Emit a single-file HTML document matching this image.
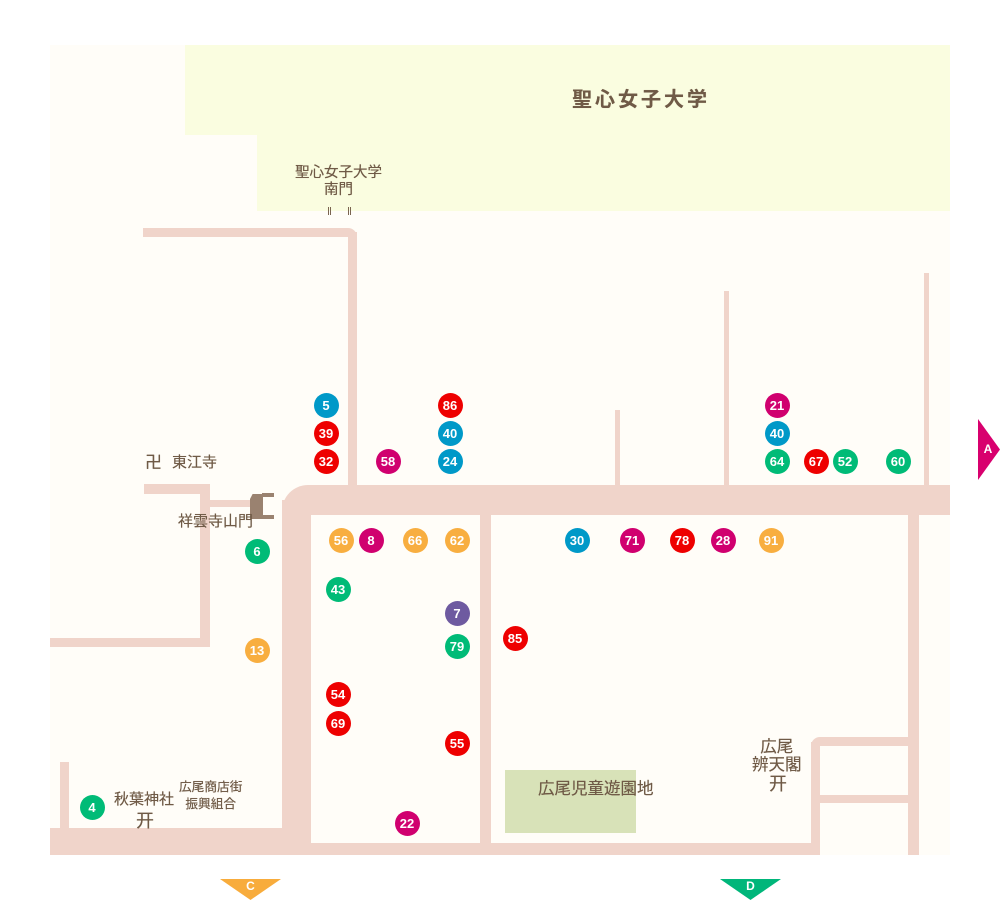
<!DOCTYPE html>
<html><head><meta charset="utf-8"><style>
*{margin:0;padding:0;box-sizing:border-box}
body{width:1000px;height:900px;background:#fff;position:relative;overflow:hidden;font-family:"Liberation Sans","Noto Sans CJK JP",sans-serif}
.a{position:absolute}
.r{position:absolute;background:#f0d4ca}
.c{position:absolute;width:25px;height:25px;border-radius:50%;color:#fff;font-size:13px;font-weight:bold;text-align:center;line-height:25px;margin:-12.5px 0 0 -12.5px}
.b{background:#0099c8}.rd{background:#ee0000}.m{background:#d0006f}.o{background:#f8ae40}.g{background:#00bb77}.p{background:#6e5aa0}
.t{position:absolute;color:#6f5a46;font-size:13px;line-height:16px;text-align:center;white-space:nowrap;text-shadow:0 0 0.4px #6f5a46}
</style></head><body>
<div class="a" style="left:50px;top:45px;width:900px;height:810px;background:#fffdf8"></div>
<div class="a" style="left:185px;top:45px;width:765px;height:90px;background:#fafde0"></div>
<div class="a" style="left:257px;top:135px;width:693px;height:76px;background:#fafde0"></div>
<div class="t" style="left:572px;top:88px;font-size:20px;line-height:24px;letter-spacing:3px;font-weight:bold">聖心女子大学</div>
<div class="t" style="left:295px;top:165px;font-size:14.5px;line-height:17px">聖心女子大学<br>南門</div>
<div class="a" style="left:328px;top:207px;width:3px;height:8px;border-left:1px solid #7a6450;border-right:1px solid #7a6450"></div>
<div class="a" style="left:348px;top:207px;width:3px;height:8px;border-left:1px solid #7a6450;border-right:1px solid #7a6450"></div>

<!-- roads -->
<div class="a" style="left:143px;top:228px;width:214px;height:9px;background:#f0d4ca;border-top-right-radius:10px"></div>
<div class="r" style="left:348px;top:232px;width:9px;height:255px"></div>
<div class="a" style="left:282px;top:485px;width:668px;height:30px;background:#f0d4ca;border-top-left-radius:26px"></div>
<div class="r" style="left:282px;top:500px;width:29px;height:355px"></div>
<div class="r" style="left:50px;top:828px;width:261px;height:27px"></div>
<div class="r" style="left:311px;top:843px;width:509px;height:12px"></div>
<div class="r" style="left:480px;top:515px;width:11px;height:340px"></div>
<div class="r" style="left:908px;top:515px;width:11px;height:340px"></div>
<div class="a" style="left:811px;top:737px;width:99px;height:9px;background:#f0d4ca;border-top-left-radius:12px"></div>
<div class="r" style="left:811px;top:742px;width:9px;height:113px"></div>
<div class="r" style="left:820px;top:795px;width:90px;height:8px"></div>
<div class="r" style="left:615px;top:410px;width:5px;height:76px"></div>
<div class="r" style="left:724px;top:291px;width:5px;height:195px"></div>
<div class="r" style="left:924px;top:273px;width:5px;height:213px"></div>
<div class="r" style="left:144px;top:484px;width:66px;height:10px"></div>
<div class="r" style="left:200px;top:484px;width:10px;height:163px"></div>
<div class="r" style="left:50px;top:638px;width:160px;height:9px"></div>
<div class="r" style="left:210px;top:500px;width:48px;height:7px"></div>
<div class="r" style="left:60px;top:762px;width:9px;height:68px"></div>
<div class="a" style="left:505px;top:770px;width:131px;height:63px;background:#d8e2b8"></div>

<!-- gate icon -->
<div class="a" style="left:250px;top:494px;width:13px;height:25px;background:#9a8270;clip-path:polygon(20% 0,100% 0,100% 100%,0 100%,0 20%)"></div>
<div class="a" style="left:262px;top:493px;width:12px;height:4px;background:#9a8270"></div>
<div class="a" style="left:262px;top:515px;width:12px;height:4px;background:#9a8270"></div>

<!-- labels -->
<div class="t" style="left:145px;top:453px;font-size:17px;line-height:20px">卍</div>
<div class="t" style="left:172px;top:454px;font-size:15px;line-height:18px">東江寺</div>
<div class="t" style="left:178px;top:513px;font-size:15px;line-height:18px">祥雲寺山門</div>
<div class="t" style="left:114px;top:791px;font-size:15px;line-height:18px">秋葉神社</div>
<div class="t" style="left:136px;top:811px;font-size:18px;line-height:20px">开</div>
<div class="t" style="left:179px;top:779px;font-size:12.7px;line-height:16.5px">広尾商店街<br>振興組合</div>
<div class="t" style="left:538px;top:779px;font-size:16.5px;line-height:20px">広尾児童遊園地</div>
<div class="t" style="left:752px;top:738px;font-size:16.5px;line-height:18px">広尾<br>辨天閣</div>
<div class="t" style="left:769px;top:774px;font-size:18px;line-height:20px">开</div>

<!-- circles -->
<div class="c b" style="left:326px;top:405px">5</div>
<div class="c rd" style="left:326px;top:433px">39</div>
<div class="c rd" style="left:326px;top:461px">32</div>
<div class="c m" style="left:388px;top:461px">58</div>
<div class="c rd" style="left:450px;top:405px">86</div>
<div class="c b" style="left:450px;top:433px">40</div>
<div class="c b" style="left:450px;top:461px">24</div>
<div class="c m" style="left:777px;top:405px">21</div>
<div class="c b" style="left:777px;top:433px">40</div>
<div class="c g" style="left:777px;top:461px">64</div>
<div class="c rd" style="left:816px;top:461px">67</div>
<div class="c g" style="left:845px;top:461px">52</div>
<div class="c g" style="left:898px;top:461px">60</div>
<div class="c o" style="left:341px;top:540px">56</div>
<div class="c m" style="left:371px;top:540px">8</div>
<div class="c o" style="left:415px;top:540px">66</div>
<div class="c o" style="left:457px;top:540px">62</div>
<div class="c b" style="left:577px;top:540px">30</div>
<div class="c m" style="left:632px;top:540px">71</div>
<div class="c rd" style="left:682px;top:540px">78</div>
<div class="c m" style="left:723px;top:540px">28</div>
<div class="c o" style="left:771px;top:540px">91</div>
<div class="c g" style="left:257px;top:551px">6</div>
<div class="c g" style="left:338px;top:589px">43</div>
<div class="c p" style="left:457px;top:613px">7</div>
<div class="c g" style="left:457px;top:646px">79</div>
<div class="c rd" style="left:515px;top:638px">85</div>
<div class="c o" style="left:257px;top:650px">13</div>
<div class="c rd" style="left:338px;top:694px">54</div>
<div class="c rd" style="left:338px;top:723px">69</div>
<div class="c rd" style="left:457px;top:743px">55</div>
<div class="c m" style="left:407px;top:823px">22</div>
<div class="c g" style="left:92px;top:807px">4</div>

<!-- arrows -->
<div class="a" style="left:978px;top:419px;width:22px;height:61px;background:#d8006e;clip-path:polygon(0 0,100% 50%,0 100%)"></div>
<div class="a" style="left:980px;top:442px;width:16px;color:#fff;font-size:12px;font-weight:bold;text-align:center">A</div>
<div class="a" style="left:220px;top:879px;width:61px;height:21px;background:#f8ac3c;clip-path:polygon(0 0,100% 0,50% 100%)"></div>
<div class="a" style="left:220px;top:879px;width:61px;color:#fff;font-size:12px;font-weight:bold;text-align:center">C</div>
<div class="a" style="left:720px;top:879px;width:61px;height:21px;background:#00b67a;clip-path:polygon(0 0,100% 0,50% 100%)"></div>
<div class="a" style="left:720px;top:879px;width:61px;color:#fff;font-size:12px;font-weight:bold;text-align:center">D</div>
</body></html>
